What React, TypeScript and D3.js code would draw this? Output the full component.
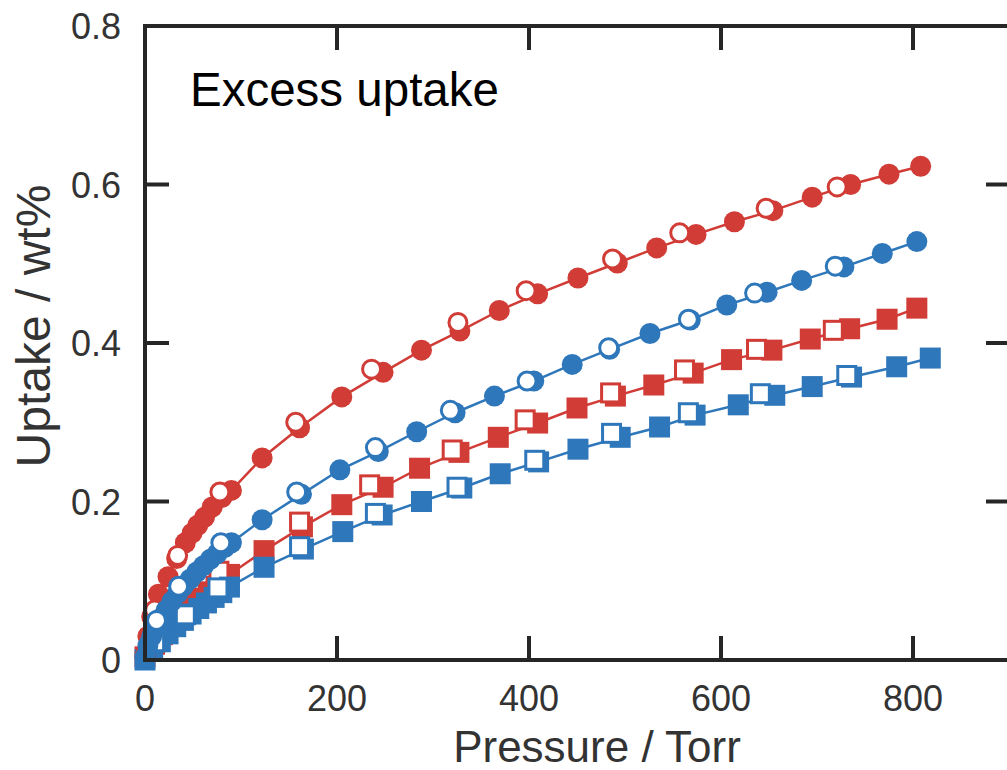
import * as d3 from 'd3';

// excess uptake isotherms (P in Torr, uptake in wt%)
// circles
const redCircleAdsP = [0, 3, 7, 14, 24, 33, 42, 49, 55, 62, 70, 80, 90, 122, 161, 205, 248, 288, 328, 369, 409, 451, 492, 533, 574, 614, 654, 695, 735, 775, 808];
const redCircleAdsU = [0.005, 0.03, 0.055, 0.083, 0.105, 0.128, 0.148, 0.16, 0.17, 0.18, 0.193, 0.205, 0.214, 0.255, 0.293, 0.332, 0.363, 0.391, 0.415, 0.441, 0.462, 0.482, 0.501, 0.52, 0.537, 0.553, 0.567, 0.584, 0.6, 0.613, 0.623];
const redCircleDesP = [10, 34, 78, 157, 236, 326, 397, 487, 557, 647, 721];
const redCircleDesU = [0.063, 0.132, 0.212, 0.3, 0.367, 0.426, 0.466, 0.506, 0.539, 0.57, 0.597];

const blueCircleAdsP = [0, 3, 7, 12, 17, 22, 28, 34, 40, 47, 54, 61, 68, 75, 83, 90, 122, 163, 203, 243, 283, 323, 364, 405, 445, 484, 526, 568, 606, 648, 684, 728, 768, 804];
const blueCircleAdsU = [0.003, 0.018, 0.03, 0.042, 0.053, 0.063, 0.074, 0.084, 0.093, 0.102, 0.111, 0.119, 0.127, 0.134, 0.142, 0.148, 0.177, 0.209, 0.24, 0.263, 0.288, 0.312, 0.333, 0.352, 0.373, 0.392, 0.412, 0.429, 0.448, 0.464, 0.479, 0.496, 0.513, 0.528];
const blueCircleDesP = [12, 35, 79, 158, 240, 318, 398, 483, 566, 635, 719];
const blueCircleDesU = [0.05, 0.093, 0.148, 0.212, 0.268, 0.315, 0.352, 0.394, 0.43, 0.463, 0.497];

// squares
const redSquareAdsP = [0, 10, 18, 26, 34, 42, 50, 58, 66, 74, 81, 88, 124, 164, 205, 248, 286, 327, 368, 409, 450, 490, 530, 571, 611, 653, 693, 734, 773, 804];
const redSquareAdsU = [0.004, 0.02, 0.032, 0.043, 0.052, 0.062, 0.07, 0.078, 0.086, 0.093, 0.1, 0.108, 0.138, 0.168, 0.196, 0.218, 0.242, 0.262, 0.281, 0.299, 0.318, 0.333, 0.347, 0.362, 0.379, 0.391, 0.405, 0.418, 0.43, 0.444];
const redSquareDesP = [77, 161, 234, 320, 396, 485, 562, 637, 717];
const redSquareDesU = [0.112, 0.174, 0.221, 0.265, 0.303, 0.337, 0.366, 0.392, 0.416];

const blueSquareAdsP = [0, 8, 16, 24, 32, 40, 48, 56, 64, 72, 80, 88, 124, 165, 206, 247, 288, 330, 370, 410, 451, 495, 536, 573, 618, 656, 695, 736, 783, 818];
const blueSquareAdsU = [0, 0.012, 0.023, 0.033, 0.042, 0.05, 0.058, 0.065, 0.072, 0.079, 0.085, 0.092, 0.117, 0.14, 0.162, 0.183, 0.2, 0.217, 0.235, 0.25, 0.266, 0.281, 0.294, 0.309, 0.322, 0.334, 0.345, 0.357, 0.37, 0.381];
const blueSquareDesP = [10, 42, 76, 161, 240, 325, 406, 486, 566, 641, 731];
const blueSquareDesU = [0.023, 0.057, 0.091, 0.143, 0.185, 0.218, 0.252, 0.286, 0.312, 0.336, 0.359];

const xTicks = [0, 200, 400, 600, 800];
const yTicks = [0, 0.2, 0.4, 0.6, 0.8];
const yTickLabels = ['0', '0.2', '0.4', '0.6', '0.8'];

const RED = '#d13c36';
const BLUE = '#2e77ba';
const AXIS = '#262626';
const TEXT = '#333';
const FONT = '"Liberation Sans", Arial, sans-serif';

const zip = (p: number[], u: number[]) => p.map((v, i) => ({ p: v, u: u[i] }));

export default function App() {
  const width = 1007;
  const height = 770;
  const left = 145;
  const right = 1010;
  const top = 26;
  const bottom = 660;
  const tickLen = 24;

  const x = d3.scaleLinear().domain([0, 800]).range([left, 913]);
  const y = d3.scaleLinear().domain([0, 0.8]).range([bottom, top]);

  const line = d3
    .line<{ p: number; u: number }>()
    .x((d) => x(d.p))
    .y((d) => y(d.u));

  const series = [
    { shape: 'square', color: RED, ads: zip(redSquareAdsP, redSquareAdsU), des: zip(redSquareDesP, redSquareDesU) },
    { shape: 'square', color: BLUE, ads: zip(blueSquareAdsP, blueSquareAdsU), des: zip(blueSquareDesP, blueSquareDesU) },
    { shape: 'circle', color: RED, ads: zip(redCircleAdsP, redCircleAdsU), des: zip(redCircleDesP, redCircleDesU) },
    { shape: 'circle', color: BLUE, ads: zip(blueCircleAdsP, blueCircleAdsU), des: zip(blueCircleDesP, blueCircleDesU) },
  ];

  const marker = (shape: string, color: string, open: boolean, d: { p: number; u: number }, key: string) => {
    const cx = x(d.p);
    const cy = y(d.u);
    if (shape === 'circle') {
      return open ? (
        <circle key={key} cx={cx} cy={cy} r={9} fill="#fff" stroke={color} strokeWidth={3} />
      ) : (
        <circle key={key} cx={cx} cy={cy} r={10.5} fill={color} />
      );
    }
    return open ? (
      <rect key={key} x={cx - 9} y={cy - 9} width={18} height={18} fill="#fff" stroke={color} strokeWidth={3} />
    ) : (
      <rect key={key} x={cx - 10.5} y={cy - 10.5} width={21} height={21} fill={color} />
    );
  };

  return (
    <svg width={width} height={height} style={{ position: 'absolute', left: 0, top: 0 }}>
      <rect width={width} height={height} fill="#fff" />

      {/* curves and markers */}
      {series.map((s, i) => (
        <g key={i}>
          <path d={line(s.ads) || ''} fill="none" stroke={s.color} strokeWidth={2.5} />
          {s.ads.map((d, j) => marker(s.shape, s.color, false, d, 'a' + j))}
          {s.des.map((d, j) => marker(s.shape, s.color, true, d, 'd' + j))}
        </g>
      ))}

      {/* frame */}
      <rect x={left} y={top} width={right - left} height={bottom - top} fill="none" stroke={AXIS} strokeWidth={4} />

      {/* x ticks, inward on bottom and top */}
      {xTicks.slice(1).map((t) => (
        <g key={t}>
          <line x1={x(t)} x2={x(t)} y1={bottom} y2={bottom - tickLen} stroke={AXIS} strokeWidth={4} />
          <line x1={x(t)} x2={x(t)} y1={top} y2={top + tickLen} stroke={AXIS} strokeWidth={4} />
        </g>
      ))}
      {xTicks.map((t) => (
        <text key={t} x={x(t)} y={711} textAnchor="middle" fontFamily={FONT} fontSize={36} fill={TEXT}>
          {t}
        </text>
      ))}

      {/* y ticks, inward on left and right */}
      {yTicks.slice(1, -1).map((t) => (
        <g key={t}>
          <line x1={left} x2={left + tickLen} y1={y(t)} y2={y(t)} stroke={AXIS} strokeWidth={4} />
          <line x1={right} x2={right - tickLen} y1={y(t)} y2={y(t)} stroke={AXIS} strokeWidth={4} />
        </g>
      ))}
      {yTicks.map((t, i) => (
        <text key={t} x={121} y={y(t) + 13} textAnchor="end" fontFamily={FONT} fontSize={36} fill={TEXT}>
          {yTickLabels[i]}
        </text>
      ))}

      {/* titles */}
      <text x={190} y={106} fontFamily={FONT} fontSize={47.5} fill="#000">
        Excess uptake
      </text>
      <text x={597} y={762} textAnchor="middle" fontFamily={FONT} fontSize={44} fill={TEXT}>
        Pressure / Torr
      </text>
      <text
        transform="translate(50,326) rotate(-90)"
        textAnchor="middle"
        fontFamily={FONT}
        fontSize={48}
        fill={TEXT}
      >
        Uptake / wt%
      </text>
    </svg>
  );
}
